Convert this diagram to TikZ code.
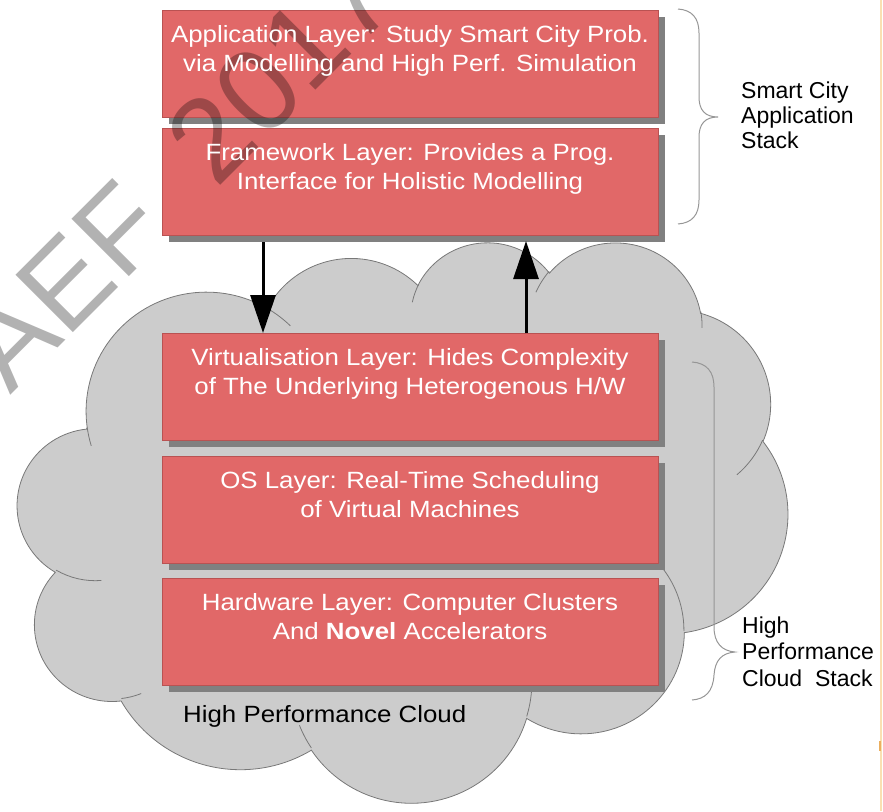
\documentclass[tikz,border=0pt]{standalone}
\usepackage{fontspec}
\setmainfont{Liberation Sans}
\newfontfamily\boxfont{Liberation Sans}[FakeStretch=1.1]
\newfontfamily\wmfont{Liberation Sans}
\usetikzlibrary{arrows.meta,shadows}
\definecolor{boxred}{RGB}{225,104,104}
\definecolor{boxedge}{RGB}{185,82,82}
\definecolor{shadowgrey}{RGB}{128,128,128}
\definecolor{cloudfill}{RGB}{204,204,204}
\definecolor{cloudedge}{RGB}{120,120,120}
\definecolor{bracegrey}{RGB}{150,150,150}
\definecolor{edgeorange}{RGB}{250,224,178}
\definecolor{tickorange}{RGB}{235,175,95}
\newcommand\ooprep[5]{%
  \pgfmathsetmacro\ootmpS{atan2((#2)*sin(#4),(#3)*cos(#4))}%
  \pgfmathsetmacro\ootmpE{atan2((#2)*sin((#4)+(#5)),(#3)*cos((#4)+(#5)))}%
  \pgfmathsetmacro\ootmpD{\ootmpE-(\ootmpS)}%
  \pgfmathsetmacro\ootmpD{\ootmpD<0 ? \ootmpD+360 : \ootmpD}%
  \expandafter\xdef\csname oo#1s\endcsname{\ootmpS}%
  \expandafter\xdef\csname oo#1d\endcsname{\ootmpD}%
}
\begin{document}
\begin{tikzpicture}[x=1pt,y=1pt,
  layer/.style={draw=boxedge, line width=0.8pt, fill=boxred,
    minimum width=496pt, minimum height=107pt, inner sep=0pt, outer sep=0pt,
    anchor=north west,
    drop shadow={shadow xshift=7pt, shadow yshift=-7pt, fill=shadowgrey, opacity=1}},
  ltext/.style={anchor=base, inner sep=0pt, text=white},
  flow/.style={line width=3pt, -{Triangle[length=38pt,width=25pt]}},
  bracepath/.style={draw=bracegrey, line width=1pt},
  side/.style={anchor=base west, inner sep=0pt, text=black},
  cloudline/.style={draw=cloudedge, line width=0.8pt}]
\useasboundingbox (0,0) rectangle (883,-811);
% ---- arc parameters of the cloud (OOXML cloud geometry, units /100)
\ooprep{A}{67.53}{91.90}{-190.48748}{123.78053}
\ooprep{B}{53.33}{72.67}{-144.10238}{89.94523}
\ooprep{C}{43.65}{59.45}{-145.80792}{99.72302}
\ooprep{D}{48.57}{65.95}{-130.98607}{117.24173}
\ooprep{E}{53.33}{72.73}{-78.70888}{109.02692}
\ooprep{F}{67.75}{92.20}{-46.26725}{130.26900}
\ooprep{G}{57.85}{78.67}{0.62502}{114.03333}
\ooprep{H}{67.52}{92.15}{22.45160}{115.17255}
\ooprep{I}{77.20}{105.43}{66.24263}{75.71102}
\ooprep{J}{43.60}{59.18}{-274.94208}{146.73557}
\ooprep{K}{43.45}{59.45}{-246.82850}{152.51885}
\ooprep{a}{43.45}{59.45}{86.74200}{26.42950}
\ooprep{b}{43.60}{59.18}{73.61047}{11.44747}
\ooprep{c}{67.52}{92.15}{137.62415}{14.08110}
\ooprep{d}{67.52}{92.15}{6.45327}{15.99835}
\ooprep{e}{57.85}{78.67}{-70.29235}{70.91737}
\ooprep{f}{53.33}{72.73}{30.31803}{27.75150}
\ooprep{g}{48.57}{65.95}{-13.74433}{14.85890}
\ooprep{h}{48.57}{65.95}{-149.18145}{18.19537}
\ooprep{i}{43.65}{59.45}{-163.49427}{17.68635}
\ooprep{j}{67.53}{91.90}{-66.70695}{12.31935}
\ooprep{k}{67.53}{91.90}{157.65435}{11.85817}
% ---- cloud
\begin{scope}[xshift=17.68pt, yshift=-241pt, x=1.7823pt, y=-1.2968pt]
\filldraw[fill=cloudfill, cloudline] (39.00,143.70)
  arc[start angle=\ooAs, delta angle=\ooAd, x radius=67.53, y radius=91.90]
  arc[start angle=\ooBs, delta angle=\ooBd, x radius=53.33, y radius=72.67]
  arc[start angle=\ooCs, delta angle=\ooCd, x radius=43.65, y radius=59.45]
  arc[start angle=\ooDs, delta angle=\ooDd, x radius=48.57, y radius=65.95]
  arc[start angle=\ooEs, delta angle=\ooEd, x radius=53.33, y radius=72.73]
  arc[start angle=\ooFs, delta angle=\ooFd, x radius=67.75, y radius=92.20]
  arc[start angle=\ooGs, delta angle=\ooGd, x radius=57.85, y radius=78.67]
  arc[start angle=\ooHs, delta angle=\ooHd, x radius=67.52, y radius=92.15]
  arc[start angle=\ooIs, delta angle=\ooId, x radius=77.20, y radius=105.43]
  arc[start angle=\ooJs, delta angle=\ooJd, x radius=43.60, y radius=59.18]
  arc[start angle=\ooKs, delta angle=\ooKd, x radius=43.45, y radius=59.45]
  -- cycle;
\draw[cloudline]
  (46.93,261.77) arc[start angle=\ooas, delta angle=\ooad, x radius=43.45, y radius=59.45]
  (69.28,348.99) arc[start angle=\oobs, delta angle=\oobd, x radius=43.60, y radius=59.18]
  (164.78,390.90) arc[start angle=\oocs, delta angle=\oocd, x radius=67.52, y radius=92.15]
  (288.27,347.51) arc[start angle=\oods, delta angle=\oodd, x radius=67.52, y radius=92.15]
  (341.29,229.54) arc[start angle=\ooes, delta angle=\ooed, x radius=57.85, y radius=78.67]
  (417.98,153.54) arc[start angle=\oofs, delta angle=\oofd, x radius=53.33, y radius=72.73]
  (383.24,54.26) arc[start angle=\oogs, delta angle=\oogd, x radius=48.57, y radius=65.95]
  (290.78,39.52) arc[start angle=\oohs, delta angle=\oohd, x radius=48.57, y radius=65.95]
  (221.41,47.20) arc[start angle=\oois, delta angle=\ooid, x radius=43.65, y radius=59.45]
  (140.00,51.92) arc[start angle=\oojs, delta angle=\oojd, x radius=67.53, y radius=91.90]
  (41.27,157.89) arc[start angle=\ooks, delta angle=\ookd, x radius=67.53, y radius=91.90];
\end{scope}
% ---- layer boxes
\node[layer] (b1) at (162,-10) {};
\node[layer] (b2) at (162,-128) {};
\node[layer] (b3) at (162,-333) {};
\node[layer] (b4) at (162,-456) {};
\node[layer] (b5) at (162,-578) {};
% ---- watermark
\begin{scope}
\clip (0,0) rectangle (883,-811);
\node[rotate=45, anchor=base west, inner sep=0pt, text=black, text opacity=0.3,
  font=\wmfont\fontsize{118}{118}\selectfont] (wm) at (10.7,-395.3) {AEF\hspace{62pt}2017};
\end{scope}
% ---- layer texts
\node[ltext] (t1) at ([yshift=-32.5pt]b1.north) {\parbox[t]{490pt}{\boxfont\fontsize{23.5}{28.5}\selectfont\centering Application Layer: Study Smart City Prob.\\via Modelling and High Perf. Simulation}};
\node[ltext] (t2) at ([yshift=-32.5pt]b2.north) {\parbox[t]{490pt}{\boxfont\fontsize{23.5}{28.5}\selectfont\centering Framework Layer: Provides a Prog.\\Interface for Holistic Modelling}};
\node[ltext] (t3) at ([yshift=-32.5pt]b3.north) {\parbox[t]{490pt}{\boxfont\fontsize{23.5}{28.5}\selectfont\centering Virtualisation Layer: Hides Complexity\\of The Underlying Heterogenous H/W}};
\node[ltext] (t4) at ([yshift=-32.5pt]b4.north) {\parbox[t]{490pt}{\boxfont\fontsize{23.5}{28.5}\selectfont\centering OS Layer: Real-Time Scheduling\\of Virtual Machines}};
\node[ltext] (t5) at ([yshift=-32.5pt]b5.north) {\parbox[t]{490pt}{\boxfont\fontsize{23.5}{28.5}\selectfont\centering Hardware Layer: Computer Clusters\\And \textbf{Novel} Accelerators}};
% ---- arrows
\coordinate (dx) at (263,0);
\coordinate (ux) at (526,0);
\draw[flow, shorten <=7pt] (b2.south -| dx) -- (b3.north -| dx);
\draw[flow, shorten >=6pt] (b3.north -| ux) -- (b2.south -| ux);
% ---- labels
\node[side] (hpc) at (183,-722) {\boxfont\fontsize{23.5}{28}\selectfont High Performance Cloud};
\node[side] (sca) at (741,-98.3) {\parbox[t]{140pt}{\fontsize{23}{25}\selectfont\raggedright Smart City\\Application\\Stack}};
\node[side] (hpcs) at (742,-633.3) {\parbox[t]{140pt}{\fontsize{23}{26.5}\selectfont\raggedright High\\Performance\\Cloud\ \ Stack}};
% ---- braces
\draw[bracepath] (678,-9) .. controls (692,-10) and (699,-18) .. (699,-33)
  -- (699,-97) .. controls (699,-110) and (705,-117) .. (718,-117)
  .. controls (705,-117) and (699,-124) .. (699,-137)
  -- (699,-200) .. controls (699,-215) and (692,-223) .. (678,-224);
\draw[bracepath] (692,-362) .. controls (707,-363) and (714,-372) .. (714,-387)
  -- (714,-627) .. controls (714,-643) and (722,-651) .. (735,-652)
  .. controls (722,-653) and (715,-660) .. (714,-675)
  .. controls (713,-692) and (705,-699) .. (692,-700);
% ---- page edge line
\draw[edgeorange, line width=1.5pt] (881,0) -- (881,-811);
\draw[tickorange, line width=1.5pt] (880,-741) -- (880,-751);
\end{tikzpicture}
\end{document}
